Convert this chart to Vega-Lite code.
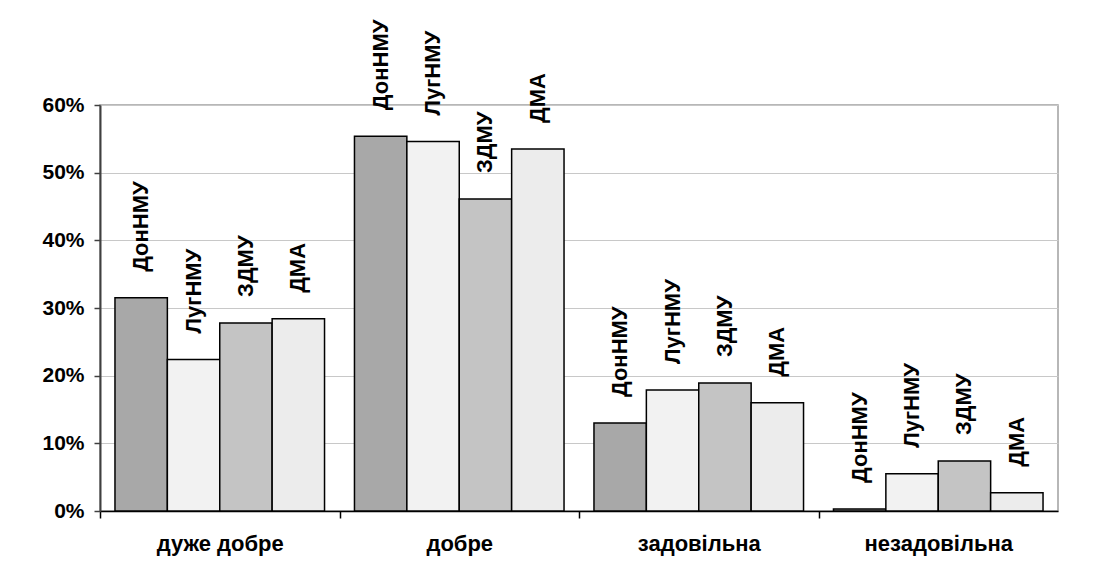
{
  "$schema": "https://vega.github.io/schema/vega-lite/v6.json",
  "autosize": "none",
  "padding": {"left": 100, "top": 105, "right": 48, "bottom": 58},
  "width": 958,
  "height": 406,
  "background": "white",
  "config": {
    "view": {"stroke": "#a0a0a0", "strokeWidth": 1.5},
    "font": "Liberation Sans"
  },
  "data": {
    "values": [
      {"group": "дуже добре", "uni": "ДонНМУ", "value": 0.315},
      {"group": "дуже добре", "uni": "ЛугНМУ", "value": 0.224},
      {"group": "дуже добре", "uni": "ЗДМУ", "value": 0.278},
      {"group": "дуже добре", "uni": "ДМА", "value": 0.284},
      {"group": "добре", "uni": "ДонНМУ", "value": 0.554},
      {"group": "добре", "uni": "ЛугНМУ", "value": 0.546},
      {"group": "добре", "uni": "ЗДМУ", "value": 0.461},
      {"group": "добре", "uni": "ДМА", "value": 0.535},
      {"group": "задовільна", "uni": "ДонНМУ", "value": 0.130},
      {"group": "задовільна", "uni": "ЛугНМУ", "value": 0.179},
      {"group": "задовільна", "uni": "ЗДМУ", "value": 0.189},
      {"group": "задовільна", "uni": "ДМА", "value": 0.160},
      {"group": "незадовільна", "uni": "ДонНМУ", "value": 0.003},
      {"group": "незадовільна", "uni": "ЛугНМУ", "value": 0.055},
      {"group": "незадовільна", "uni": "ЗДМУ", "value": 0.074},
      {"group": "незадовільна", "uni": "ДМА", "value": 0.027}
    ]
  },
  "encoding": {
    "x": {
      "field": "group",
      "type": "nominal",
      "sort": ["дуже добре", "добре", "задовільна", "незадовільна"],
      "scale": {"paddingInner": 0.125, "paddingOuter": 0.0625},
      "axis": {
        "title": null,
        "labelAngle": 0,
        "labelFont": "Liberation Sans",
        "labelFontWeight": "bold",
        "labelFontSize": 22,
        "labelColor": "black",
        "labelPadding": 15,
        "tickBand": "center",
        "tickOffset": -119.75,
        "labelOffset": 119.75,
        "tickSize": 7,
        "tickColor": "black",
        "tickWidth": 1.5,
        "domainColor": "black",
        "domainWidth": 1.5
      }
    },
    "xOffset": {
      "field": "uni",
      "type": "nominal",
      "sort": ["ДонНМУ", "ЛугНМУ", "ЗДМУ", "ДМА"],
      "scale": {"paddingInner": 0, "paddingOuter": 0}
    },
    "y": {
      "field": "value",
      "type": "quantitative",
      "scale": {"domain": [0, 0.6], "nice": false},
      "axis": {
        "title": null,
        "format": ".0%",
        "values": [0, 0.1, 0.2, 0.3, 0.4, 0.5, 0.6],
        "labelFont": "Liberation Sans",
        "labelFontWeight": "bold",
        "labelFontSize": 21,
        "labelColor": "black",
        "labelPadding": 10,
        "tickSize": 6,
        "tickColor": "#404040",
        "tickWidth": 1.5,
        "domainColor": "#404040",
        "domainWidth": 2,
        "grid": true,
        "gridColor": "#c8c8c8",
        "gridWidth": 1
      }
    }
  },
  "layer": [
    {
      "mark": {"type": "bar", "stroke": "black", "strokeWidth": 1.5},
      "encoding": {
        "fill": {
          "field": "uni",
          "type": "nominal",
          "legend": null,
          "scale": {
            "domain": ["ДонНМУ", "ЛугНМУ", "ЗДМУ", "ДМА"],
            "range": ["#a8a8a8", "#f2f2f2", "#c4c4c4", "#ececec"]
          }
        }
      }
    },
    {
      "mark": {
        "type": "text",
        "angle": -90,
        "align": "left",
        "baseline": "middle",
        "dx": 26,
        "font": "Liberation Sans",
        "fontWeight": "bold",
        "fontSize": 22,
        "color": "black"
      },
      "encoding": {"text": {"field": "uni"}}
    }
  ]
}
